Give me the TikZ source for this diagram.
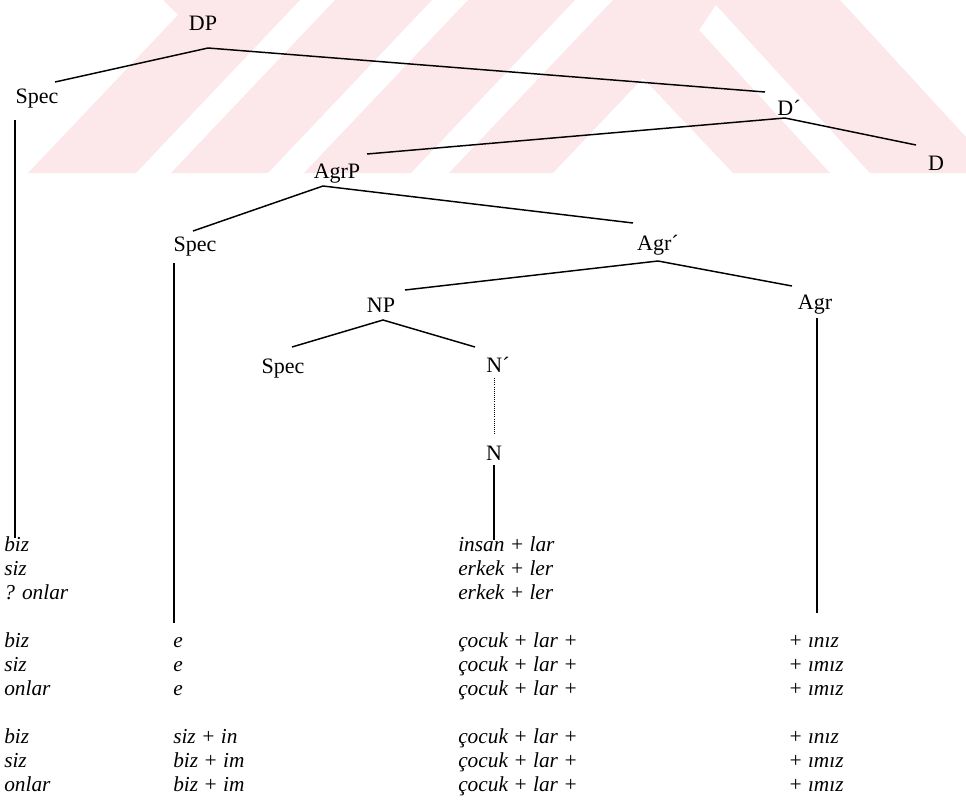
\documentclass[tikz,border=0pt]{standalone}
\usepackage{fontspec}
\setmainfont{Liberation Serif}
\definecolor{wmpink}{RGB}{252,231,235}
\begin{document}
\begin{tikzpicture}[x=0.75pt,y=-0.75pt,
  lab/.style={font=\fontsize{16.5}{18}\selectfont, inner sep=0pt, anchor=base},
  txt/.style={font=\fontsize{16}{18}\selectfont\itshape, inner sep=0pt, anchor=base west},
  branch/.style={line width=1.1pt},
  dotbranch/.style={line width=0.6pt, densely dotted}]
\useasboundingbox (0,0) rectangle (966,803);
% watermark
\fill[wmpink] (163,0) -- (300,0) -- (136,173) -- (28,173) -- (178,15) -- cycle;
\fill[wmpink] (335,0) -- (432,0) -- (268,173) -- (171,173) -- cycle;
\fill[wmpink] (468,0) -- (575,0) -- (411,173) -- (304,173) -- cycle;
\fill[wmpink] (613,0) -- (449,173) -- (553,173) -- (643,78) -- (733,173) -- (830,173)
  -- (699,30) -- (716,5) -- (870,173) -- (966,173) -- (966,137) -- (840,0) -- cycle;
% labels
\node[lab] (dp) at (203,30) {DP};
\node[lab] (spec1) at (37,103) {Spec};
\node[lab] (dbar) at (789,115) {D´};
\node[lab] (d) at (936,170) {D};
\node[lab] (agrp) at (337,178) {AgrP};
\node[lab] (spec2) at (195,251) {Spec};
\node[lab] (agrbar) at (658,250) {Agr´};
\node[lab] (agr) at (815,309) {Agr};
\node[lab] (np) at (381,312) {NP};
\node[lab] (spec3) at (283,373) {Spec};
\node[lab] (nbar) at (498,372) {N´};
\node[lab] (n) at (494,460) {N};
% branch points
\coordinate (dpA) at (208,48);  \coordinate (dpL) at (55,82);   \coordinate (dpR) at (765,92);
\coordinate (dbA) at (785,118); \coordinate (dbL) at (367,154); \coordinate (dbR) at (916,145);
\coordinate (apA) at (323,186); \coordinate (apL) at (193,231); \coordinate (apR) at (633,223);
\coordinate (abA) at (658,261); \coordinate (abL) at (405,290); \coordinate (abR) at (792,286);
\coordinate (npA) at (383,320); \coordinate (npL) at (292,347); \coordinate (npR) at (475,347);
\coordinate (s1T) at (15,120);  \coordinate (s1B) at (15,538);
\coordinate (s2T) at (174,263); \coordinate (s2B) at (174,623);
\coordinate (nbT) at (494,378); \coordinate (nbB) at (494,435);
\coordinate (nT) at (494,465);  \coordinate (nB) at (494,540);
\coordinate (agT) at (817,318); \coordinate (agB) at (817,613);
\draw[branch] (dpL) -- (dpA) -- (dpR);
\draw[branch] (dbL) -- (dbA) -- (dbR);
\draw[branch] (apL) -- (apA) -- (apR);
\draw[branch] (abL) -- (abA) -- (abR);
\draw[branch] (npL) -- (npA) -- (npR);
\draw[branch] (s1T) -- (s1B);
\draw[branch] (s2T) -- (s2B);
\draw[dotbranch] (nbT) -- (nbB);
\draw[branch] (nT) -- (nB);
\draw[branch] (agT) -- (agB);
% group 1
\node[txt] (a11) at (4,551) {biz};
\node[txt] (a12) at (4,575) {siz};
\node[txt] (a13) at (4,599) {? onlar};
\node[txt] (c11) at (458,551) {insan + lar};
\node[txt] (c12) at (458,575) {erkek + ler};
\node[txt] (c13) at (458,599) {erkek + ler};
% group 2
\node[txt] (a21) at (4,647) {biz};
\node[txt] (a22) at (4,671) {siz};
\node[txt] (a23) at (4,695) {onlar};
\node[txt] (b21) at (173,647) {e};
\node[txt] (b22) at (173,671) {e};
\node[txt] (b23) at (173,695) {e};
\node[txt] (c21) at (458,647) {çocuk + lar +};
\node[txt] (c22) at (458,671) {çocuk + lar +};
\node[txt] (c23) at (458,695) {çocuk + lar +};
\node[txt] (d21) at (788,647) {+ ınız};
\node[txt] (d22) at (788,671) {+ ımız};
\node[txt] (d23) at (788,695) {+ ımız};
% group 3
\node[txt] (a31) at (4,743) {biz};
\node[txt] (a32) at (4,767) {siz};
\node[txt] (a33) at (4,791) {onlar};
\node[txt] (b31) at (173,743) {siz + in};
\node[txt] (b32) at (173,767) {biz + im};
\node[txt] (b33) at (173,791) {biz + im};
\node[txt] (c31) at (458,743) {çocuk + lar +};
\node[txt] (c32) at (458,767) {çocuk + lar +};
\node[txt] (c33) at (458,791) {çocuk + lar +};
\node[txt] (d31) at (788,743) {+ ınız};
\node[txt] (d32) at (788,767) {+ ımız};
\node[txt] (d33) at (788,791) {+ ımız};
\end{tikzpicture}
\end{document}
